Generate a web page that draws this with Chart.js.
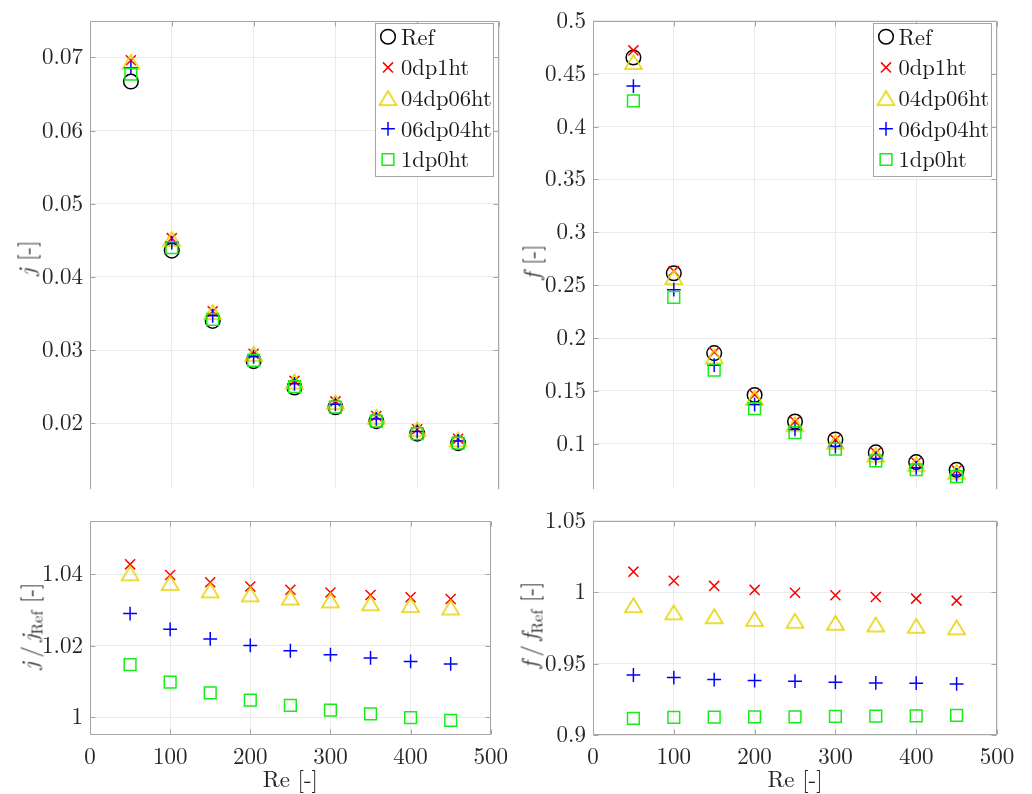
<!DOCTYPE html>
<html><head><meta charset="utf-8">
<script src="https://cdn.jsdelivr.net/npm/chart.js@4.4.1/dist/chart.umd.min.js"></script>
<style>
html,body{margin:0;padding:0;background:#fff;}
body{width:1032px;height:794px;position:relative;overflow:hidden;}
.pane{position:absolute;}
.ytitle{position:absolute;transform:translate(-50%,-50%) rotate(-90deg);white-space:nowrap;font-size:23px;color:#262626;line-height:1;font-family:'Latin Modern Roman','Liberation Serif',serif;}
.ytitle sub{font-size:16px;vertical-align:-5px;line-height:0;}
</style></head><body>
<div class="pane" style="left:0;top:0;width:516px;height:510px"><canvas id="cj"></canvas></div>
<div class="pane" style="left:516px;top:0;width:516px;height:510px"><canvas id="cf"></canvas></div>
<div class="pane" style="left:0;top:500px;width:516px;height:294px"><canvas id="cjr"></canvas></div>
<div class="pane" style="left:516px;top:500px;width:516px;height:294px"><canvas id="cfr"></canvas></div>
<div class="ytitle" style="left:25px;top:258px"><i>j</i> [-]</div>
<div class="ytitle" style="left:28px;top:626px"><i>j</i>&thinsp;/&thinsp;<i>j</i><sub>Ref</sub> [-]</div>
<div class="ytitle" style="left:530px;top:262px"><i>f</i> [-]</div>
<div class="ytitle" style="left:528px;top:625px"><i>f</i>&thinsp;/&thinsp;<i>f</i><sub>Ref</sub> [-]</div>
<script>
// ---------- data ----------
const reValues = [50, 100, 150, 200, 250, 300, 350, 400, 450];
const seriesNames = ['Ref', '0dp1ht', '04dp06ht', '06dp04ht', '1dp0ht'];

const jRef      = [0.0667, 0.0436, 0.0340, 0.0285, 0.0249, 0.0222, 0.0203, 0.0186, 0.0173];
const j0dp1ht   = [0.0696, 0.0453, 0.0353, 0.0295, 0.0258, 0.0230, 0.0210, 0.0192, 0.0179];
const j04dp06ht = [0.0694, 0.0452, 0.0352, 0.0295, 0.0257, 0.0229, 0.0209, 0.0192, 0.0178];
const j06dp04ht = [0.0686, 0.0447, 0.0347, 0.0291, 0.0254, 0.0226, 0.0206, 0.0189, 0.0176];
const j1dp0ht   = [0.0677, 0.0440, 0.0342, 0.0286, 0.0250, 0.0222, 0.0203, 0.0186, 0.0173];

const fRef      = [0.4653, 0.2613, 0.1857, 0.1461, 0.1210, 0.1040, 0.0918, 0.0826, 0.0753];
const f0dp1ht   = [0.4720, 0.2634, 0.1865, 0.1463, 0.1210, 0.1038, 0.0915, 0.0822, 0.0749];
const f04dp06ht = [0.4611, 0.2576, 0.1826, 0.1434, 0.1186, 0.1018, 0.0897, 0.0807, 0.0734];
const f06dp04ht = [0.4383, 0.2457, 0.1743, 0.1371, 0.1135, 0.0974, 0.0860, 0.0773, 0.0705];
const f1dp0ht   = [0.4242, 0.2384, 0.1695, 0.1333, 0.1104, 0.0950, 0.0838, 0.0754, 0.0688];

const jr0dp1ht   = [1.0428, 1.0398, 1.0378, 1.0366, 1.0357, 1.0349, 1.0342, 1.0336, 1.0331];
const jr04dp06ht = [1.0403, 1.0376, 1.0355, 1.0344, 1.0335, 1.0327, 1.0319, 1.0314, 1.0307];
const jr06dp04ht = [1.0290, 1.0246, 1.0219, 1.0201, 1.0186, 1.0175, 1.0166, 1.0156, 1.0149];
const jr1dp0ht   = [1.0147, 1.0098, 1.0068, 1.0048, 1.0033, 1.0020, 1.0009, 0.9999, 0.9991];

const fr0dp1ht   = [1.0144, 1.0080, 1.0044, 1.0016, 0.9996, 0.9979, 0.9966, 0.9955, 0.9941];
const fr04dp06ht = [0.9909, 0.9859, 0.9832, 0.9813, 0.9800, 0.9786, 0.9774, 0.9765, 0.9754];
const fr06dp04ht = [0.9420, 0.9402, 0.9388, 0.9381, 0.9377, 0.9370, 0.9365, 0.9363, 0.9358];
const fr1dp0ht   = [0.9116, 0.9123, 0.9125, 0.9127, 0.9127, 0.9130, 0.9132, 0.9134, 0.9137];

const reTicks  = [0, 100, 200, 300, 400, 500];
const jTicks   = [0.02, 0.03, 0.04, 0.05, 0.06, 0.07];
const fTicks   = [0.1, 0.15, 0.2, 0.25, 0.3, 0.35, 0.4, 0.45, 0.5];
const jrTicks  = [1, 1.02, 1.04];
const frTicks  = [0.9, 0.95, 1, 1.05];

// ---------- styles ----------
const FAMCSS = "'Latin Modern Roman', 'Liberation Serif', serif";
const FONT = {family: FAMCSS, size: 23};
const LEGFONT = "22.5px " + FAMCSS;
const TXT = '#262626';
const GRID = '#ebebeb';
const AXIS = '#a6a6a6';

function makeTriangle(color){
  const c = document.createElement('canvas');
  c.width = 21; c.height = 18;
  const g = c.getContext('2d');
  g.strokeStyle = color; g.lineWidth = 1.5; g.lineJoin = 'miter';
  g.beginPath(); g.moveTo(10.5, 2); g.lineTo(19, 16); g.lineTo(2, 16); g.closePath(); g.stroke();
  return c;
}
const styleMap = {
  'Ref':      {pointStyle: 'circle',   pointRadius: 7.3, color: '#000000'},
  '0dp1ht':   {pointStyle: 'crossRot', pointRadius: 7.1, color: '#ff0000'},
  '04dp06ht': {pointStyle: makeTriangle('#e6d300'), pointRadius: 9, color: '#e6d300'},
  '06dp04ht': {pointStyle: 'cross',    pointRadius: 6.9, color: '#0000ff'},
  '1dp0ht':   {pointStyle: 'rect',     pointRadius: 8.3, color: '#18ec18'}
};

function ds(name, ys, order){
  const s = styleMap[name];
  return {
    label: name,
    data: reValues.map((x, i) => ({x: x, y: ys[i]})),
    pointStyle: s.pointStyle,
    pointRadius: s.pointRadius,
    pointBorderColor: s.color,
    borderColor: s.color,
    pointBackgroundColor: 'rgba(0,0,0,0)',
    backgroundColor: 'rgba(0,0,0,0)',
    pointBorderWidth: 1.5,
    borderWidth: 1.5,
    showLine: false,
    order: order
  };
}

// ---------- plugins ----------
const boxPlugin = {
  id: 'mbox',
  beforeDatasetsDraw(chart, args, opts){
    const {ctx, chartArea: a, scales} = chart;
    const L = Math.round(a.left) + 0.5, R = Math.round(a.right) - 0.5;
    const T = Math.round(a.top) + 0.5, B = Math.round(a.bottom) - 0.5;
    ctx.save();
    ctx.strokeStyle = AXIS; ctx.lineWidth = 1;
    ctx.beginPath();
    ctx.moveTo(L, opts.bottom ? B : a.bottom); ctx.lineTo(L, T); ctx.lineTo(R, T); ctx.lineTo(R, opts.bottom ? B : a.bottom);
    if (opts.bottom) ctx.lineTo(L, B);
    const tl = 5;
    scales.y.ticks.forEach(t => {
      const y = Math.round(scales.y.getPixelForValue(t.value)) + 0.5;
      ctx.moveTo(L, y); ctx.lineTo(L + tl, y);
      ctx.moveTo(R, y); ctx.lineTo(R - tl, y);
    });
    scales.x.ticks.forEach(t => {
      const x = Math.round(scales.x.getPixelForValue(t.value)) + 0.5;
      ctx.moveTo(x, T); ctx.lineTo(x, T + tl);
      if (opts.bottom){ ctx.moveTo(x, B); ctx.lineTo(x, B - tl); }
    });
    ctx.stroke();
    ctx.restore();
  }
};

function drawMarker(ctx, style, r, x, y, color){
  ctx.save();
  ctx.strokeStyle = color; ctx.fillStyle = 'rgba(0,0,0,0)'; ctx.lineWidth = 1.5;
  if (Chart.helpers && Chart.helpers.drawPoint){
    Chart.helpers.drawPoint(ctx, {pointStyle: style, radius: r, borderWidth: 1.5, rotation: 0}, x, y);
  } else if (typeof style !== 'string'){
    ctx.drawImage(style, x - style.width/2, y - style.height/2);
  }
  ctx.restore();
}

const legendPlugin = {
  id: 'mlegend',
  afterDraw(chart, args, opts){
    if (!opts.show) return;
    const ctx = chart.ctx;
    const [l, t, r, b] = opts.box;
    ctx.save();
    ctx.fillStyle = '#ffffff';
    ctx.fillRect(l, t, r - l, b - t);
    ctx.strokeStyle = AXIS; ctx.lineWidth = 1;
    ctx.strokeRect(Math.round(l) + 0.5, Math.round(t) + 0.5, Math.round(r - l), Math.round(b - t));
    ctx.font = LEGFONT;
    ctx.textBaseline = 'middle'; ctx.textAlign = 'left';
    chart.data.datasets.forEach((d, i) => {
      const y = opts.y0 + i * opts.dy;
      drawMarker(ctx, d.pointStyle, d.pointRadius, opts.mx, y, d.pointBorderColor);
      ctx.fillStyle = '#1a1a1a';
      ctx.fillText(d.label, opts.tx, y + 1);
    });
    ctx.restore();
  }
};

function xScale(showLabels){
  return {
    type: 'linear', min: 0, max: 500,
    afterBuildTicks: s => { s.ticks = reTicks.map(v => ({value: v})); },
    ticks: {display: showLabels, font: FONT, color: TXT, padding: 8, maxRotation: 0, callback: v => String(v)},
    grid: {color: GRID, drawTicks: false, lineWidth: 1},
    border: {display: false},
    title: {display: showLabels, text: 'Re [-]', font: FONT, color: TXT, padding: {top: 0, bottom: 0}},
    afterFit: s => { s.height = showLabels ? 59 : 0; }
  };
}
function yScale(min, max, ticks, width){
  return {
    type: 'linear', min: min, max: max,
    afterBuildTicks: s => { s.ticks = ticks.map(v => ({value: v})); },
    ticks: {font: FONT, color: TXT, padding: 7, callback: v => String(v)},
    grid: {color: GRID, drawTicks: false, lineWidth: 1},
    border: {display: false},
    afterFit: s => { s.width = width; }
  };
}

function makeChart(id, datasets, xs, ys, padding, boxBottom, legend){
  return new Chart(document.getElementById(id), {
    type: 'scatter',
    data: {datasets: datasets},
    options: {
      responsive: true, maintainAspectRatio: false, animation: false, events: [],
      layout: {padding: padding},
      scales: {x: xs, y: ys},
      plugins: {
        legend: {display: false}, tooltip: {enabled: false},
        mbox: {bottom: boxBottom},
        mlegend: legend || {show: false}
      }
    },
    plugins: [boxPlugin, legendPlugin]
  });
}

makeChart('cj', [
  ds('Ref', jRef, 4), ds('0dp1ht', j0dp1ht, 3), ds('04dp06ht', j04dp06ht, 2), ds('06dp04ht', j06dp04ht, 1), ds('1dp0ht', j1dp0ht, 0)
], xScale(false), yScale(0.011, 0.075, jTicks, 90), {left: 0, top: 16, right: 17, bottom: 10}, false,
  {show: true, box: [375, 23, 493, 176], mx: 388, tx: 401, y0: 36.7, dy: 30.7});

makeChart('cf', [
  ds('Ref', fRef, 4), ds('0dp1ht', f0dp1ht, 3), ds('04dp06ht', f04dp06ht, 2), ds('06dp04ht', f06dp04ht, 1), ds('1dp0ht', f1dp0ht, 0)
], xScale(false), yScale(0.057, 0.5, fTicks, 77), {left: 0, top: 16, right: 35, bottom: 10}, false,
  {show: true, box: [357, 23, 475, 176], mx: 370, tx: 382.5, y0: 36.7, dy: 30.7});

makeChart('cjr', [
  ds('0dp1ht', jr0dp1ht, 3), ds('04dp06ht', jr04dp06ht, 2), ds('06dp04ht', jr06dp04ht, 1), ds('1dp0ht', jr1dp0ht, 0)
], xScale(true), yScale(0.995, 1.055, jrTicks, 90), {left: 0, top: 16, right: 17, bottom: 0}, true, null);

makeChart('cfr', [
  ds('0dp1ht', fr0dp1ht, 3), ds('04dp06ht', fr04dp06ht, 2), ds('06dp04ht', fr06dp04ht, 1), ds('1dp0ht', fr1dp0ht, 0)
], xScale(true), yScale(0.9, 1.05, frTicks, 77), {left: 0, top: 16, right: 35, bottom: 0}, true, null);
</script>
</body></html>
